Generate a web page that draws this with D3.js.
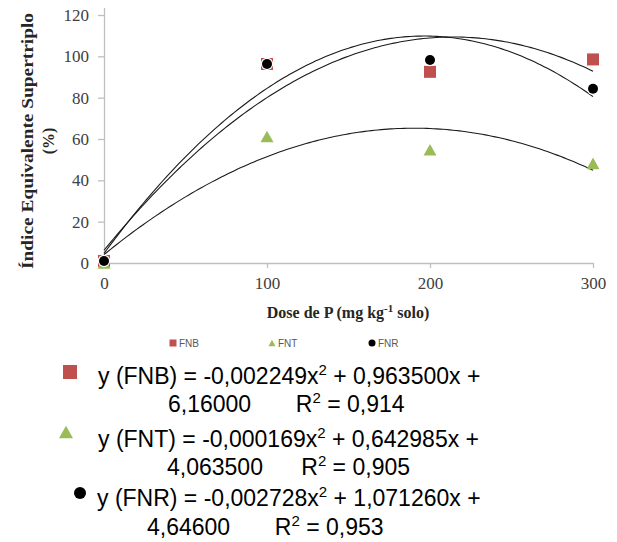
<!DOCTYPE html>
<html>
<head>
<meta charset="utf-8">
<script src="https://cdn.jsdelivr.net/npm/d3@7"></script>
<style>
  body { margin: 0; background: #fff; }
</style>
</head>
<body>
<svg id="chart" width="617" height="542"></svg>
<script>
const doses = [0, 100, 200, 300];
const fnb_values = [1, 96.3, 92.5, 98.5];
const fnt_values = [0, 61.2, 54.8, 48.2];
const fnr_values = [1, 96.3, 98.2, 84.3];
const y_ticks = [0, 20, 40, 60, 80, 100, 120];
const x_ticks = [0, 100, 200, 300];
const series_names = ["FNB", "FNT", "FNR"];
const series_colors = ["#c0504d", "#9bbb59", "#000000"];

// trendline coefficients [a, b, c] of a*x^2 + b*x + c, as drawn in the picture
// (the FNT line in the picture follows -0,00169 and not the printed -0,000169)
const trend_coefs = [
  [-0.002249, 0.9635, 6.16],
  [-0.00169, 0.642985, 4.0635],
  [-0.002728, 1.07126, 4.646],
];

const eq_lines = [
  ["y (FNB) = -0,002249x", "2", " + 0,963500x +"],
  ["6,16000       R", "2", " = 0,914"],
  ["y (FNT) = -0,000169x", "2", " + 0,642985x +"],
  ["4,063500      R", "2", " = 0,905"],
  ["y (FNR) = -0,002728x", "2", " + 1,071260x +"],
  ["4,64600       R", "2", " = 0,953"],
];

const svg = d3.select("#chart");
const serif = "'Liberation Serif', 'Times New Roman', serif";
const sans = "'Liberation Sans', Arial, sans-serif";

const x = d3.scaleLinear().domain([0, 300]).range([104, 593]);
const y = d3.scaleLinear().domain([0, 120]).range([263, 15]);

// axes
const xAxis = svg.append("g")
  .attr("transform", "translate(0,263)")
  .call(d3.axisBottom(x).tickValues(x_ticks).tickSize(5).tickSizeOuter(0).tickPadding(9));
const yAxis = svg.append("g")
  .attr("transform", "translate(104,0)")
  .call(d3.axisLeft(y).tickValues(y_ticks).tickSize(6).tickSizeOuter(0).tickPadding(9));

[xAxis, yAxis].forEach((g) => {
  g.select(".domain").attr("stroke", "#bfbfbf").attr("stroke-width", 1.3);
  g.selectAll(".tick line").attr("stroke", "#bfbfbf").attr("stroke-width", 1.3);
  g.selectAll(".tick text")
    .attr("fill", "#404040")
    .style("font-family", serif)
    .style("font-size", "17px");
});
yAxis.select(".domain").attr("d", "M0.5,8V263");

// trend lines
const line = d3.line().x((d) => x(d[0])).y((d) => y(d[1]));
trend_coefs.forEach((c) => {
  const pts = d3.range(0, 301, 2).map((v) => [v, c[0] * v * v + c[1] * v + c[2]]);
  svg.append("path")
    .attr("d", line(pts))
    .attr("fill", "none")
    .attr("stroke", "#1a1a1a")
    .attr("stroke-width", 1.1);
});

// markers
function marker(g, kind, cx, cy, s) {
  if (kind === 0) {
    g.append("rect").attr("x", cx - s / 2).attr("y", cy - s / 2)
      .attr("width", s).attr("height", s).attr("fill", series_colors[0]);
  } else if (kind === 1) {
    const h = s * 0.9;
    g.append("path")
      .attr("d", `M${cx},${cy - h / 2}L${cx + s / 2},${cy + h / 2}L${cx - s / 2},${cy + h / 2}Z`)
      .attr("fill", series_colors[1]);
  } else {
    g.append("circle").attr("cx", cx).attr("cy", cy).attr("r", s / 2)
      .attr("fill", series_colors[2]);
  }
}

const pts = svg.append("g");
[fnb_values, fnt_values, fnr_values].forEach((vals, i) => {
  vals.forEach((v, j) => {
    const size = [12, 13, 10][i];
    if (i === 2) {
      pts.append("circle").attr("cx", x(doses[j])).attr("cy", y(v)).attr("r", size / 2 + 1.2)
        .attr("fill", "#fff");
    }
    marker(pts, i, x(doses[j]), y(v), size);
  });
});

// axis titles
const yt = svg.append("text")
  .attr("transform", "translate(33,141) rotate(-90)")
  .attr("text-anchor", "middle")
  .style("font-family", serif)
  .style("font-weight", "bold")
  .style("font-size", "16px")
  .attr("fill", "#262626");
yt.append("tspan").attr("x", 0).attr("y", 0)
  .attr("textLength", 256).attr("lengthAdjust", "spacingAndGlyphs")
  .text("Índice Equivalente Supertriplo");
yt.append("tspan").attr("x", 0).attr("y", 21).text("(%)");

const xt = svg.append("text")
  .attr("x", 348).attr("y", 318)
  .attr("text-anchor", "middle")
  .style("font-family", serif)
  .style("font-weight", "bold")
  .style("font-size", "16px")
  .attr("fill", "#262626");
xt.append("tspan").text("Dose de P (mg kg");
xt.append("tspan").attr("dy", -6).style("font-size", "11px").text("-1");
xt.append("tspan").attr("dy", 6).text(" solo)");

// small legend
const leg_x = [169, 268, 368];
series_names.forEach((n, i) => {
  const g = svg.append("g");
  marker(g, i, leg_x[i] + 4, 343, 7);
  g.append("text")
    .attr("x", leg_x[i] + 10).attr("y", 347)
    .style("font-family", sans)
    .style("font-size", "10px")
    .attr("fill", "#595959")
    .text(n);
});

// equations
const eq_x = [98, 168, 98, 167, 97, 147];
const eq_y = [384, 412, 447, 475, 506, 535];
eq_lines.forEach((parts, i) => {
  const t = svg.append("text")
    .attr("x", eq_x[i]).attr("y", eq_y[i])
    .style("font-family", sans)
    .style("font-size", "23px")
    .attr("fill", "#000")
    .attr("xml:space", "preserve");
  t.append("tspan").text(parts[0]);
  t.append("tspan").attr("dy", -9).style("font-size", "15px").text(parts[1]);
  t.append("tspan").attr("dy", 9).text(parts[2]);
});
marker(svg, 0, 70, 372, 14);
marker(svg, 1, 66, 432, 14);
marker(svg, 2, 80, 493, 12);
</script>
</body>
</html>
